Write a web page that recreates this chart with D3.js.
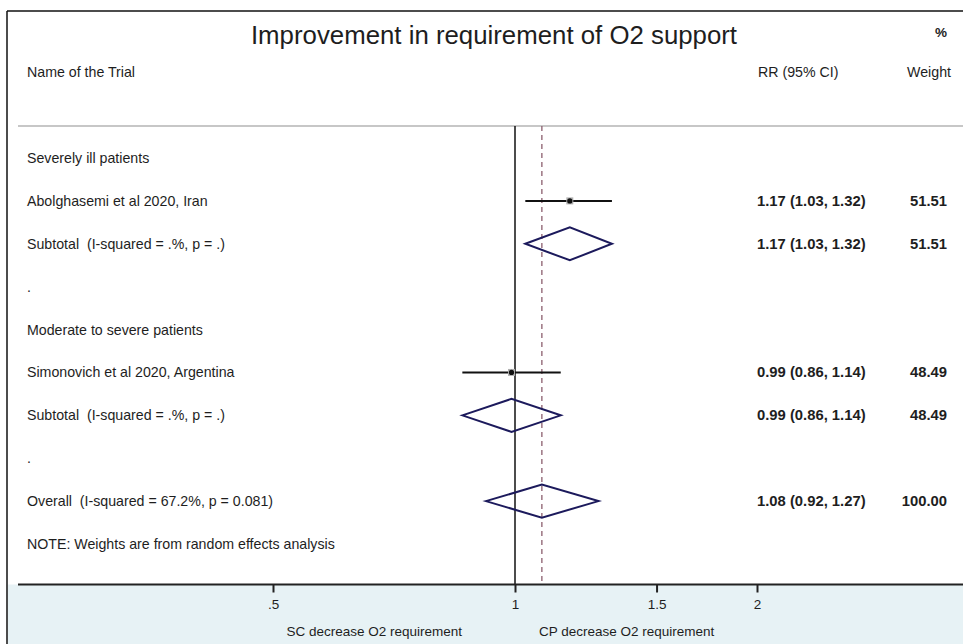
<!DOCTYPE html>
<html>
<head>
<meta charset="utf-8">
<script src="https://cdn.jsdelivr.net/npm/d3@7"></script>
<style>
  html, body { margin: 0; padding: 0; background: #fff; }
  svg text { font-family: "Liberation Sans", Arial, sans-serif; fill: #1e1e1e; white-space: pre; }
</style>
</head>
<body>
<svg id="chart" width="963" height="644"></svg>
<script>
// Forest plot rows (top to bottom)
const rowLabels = [
  "Severely ill patients",
  "Abolghasemi et al 2020, Iran",
  "Subtotal  (I-squared = .%, p = .)",
  ".",
  "Moderate to severe patients",
  "Simonovich et al 2020, Argentina",
  "Subtotal  (I-squared = .%, p = .)",
  ".",
  "Overall  (I-squared = 67.2%, p = 0.081)",
  "NOTE: Weights are from random effects analysis"
];
const rowTypes = ["group", "study", "pooled", "gap", "group", "study", "pooled", "gap", "pooled", "note"];
const rrValues = [null, 1.17, 1.17, null, null, 0.99, 0.99, null, 1.08, null];
const ciLower  = [null, 1.03, 1.03, null, null, 0.86, 0.86, null, 0.92, null];
const ciUpper  = [null, 1.32, 1.32, null, null, 1.14, 1.14, null, 1.27, null];
const weightPct = [null, "51.51", "51.51", null, null, "48.49", "48.49", null, "100.00", null];

const overallRR = 1.08;
const tickValues = [0.5, 1, 1.5, 2];
const tickLabels = [".5", "1", "1.5", "2"];

const svg = d3.select("#chart");
const W = 963, H = 644;

const x = d3.scaleLog().domain([0.5, 2]).range([273, 757]);
const y = d3.scaleLinear().domain([0, rowLabels.length - 1]).range([158, 544]);

const plotTop = 126, axisY = 584.5;
const labelSize = "14.2px", valueSize = "14.8px";

// bottom shaded band under the axis
svg.append("rect").attr("x", 8).attr("y", axisY).attr("width", W - 8).attr("height", H - axisY)
  .attr("fill", "#e7f2f5");

// outer frame (top and left edges)
svg.append("line").attr("x1", 7).attr("x2", W).attr("y1", 11).attr("y2", 11)
  .attr("stroke", "#111").attr("stroke-width", 1.5);
svg.append("line").attr("x1", 7).attr("x2", 7).attr("y1", 11).attr("y2", H)
  .attr("stroke", "#111").attr("stroke-width", 1.5);

// separator under column headers
svg.append("line").attr("x1", 18).attr("x2", W).attr("y1", plotTop).attr("y2", plotTop)
  .attr("stroke", "#b4b4b4").attr("stroke-width", 1.5);

// title & headers
svg.append("text").attr("x", 494).attr("y", 44).attr("text-anchor", "middle")
  .style("font-size", "25.8px").text("Improvement in requirement of O2 support");
svg.append("text").attr("x", 27).attr("y", 77).style("font-size", labelSize).text("Name of the Trial");
svg.append("text").attr("x", 758).attr("y", 77).style("font-size", labelSize).text("RR (95% CI)");
svg.append("text").attr("x", 935).attr("y", 37).style("font-size", "13.5px").style("font-weight", "bold").text("%");
svg.append("text").attr("x", 951).attr("y", 77).attr("text-anchor", "end").style("font-size", labelSize).text("Weight");

// null line and overall-effect line
svg.append("line").attr("x1", x(1)).attr("x2", x(1)).attr("y1", plotTop).attr("y2", axisY)
  .attr("stroke", "#111").attr("stroke-width", 1.5);
svg.append("line").attr("x1", x(overallRR)).attr("x2", x(overallRR)).attr("y1", plotTop).attr("y2", axisY)
  .attr("stroke", "#8c5f6e").attr("stroke-width", 1.3).attr("stroke-dasharray", "5,4");

// row labels
svg.selectAll("text.rowlab").data(rowLabels).join("text")
  .attr("class", "rowlab")
  .attr("x", 27).attr("y", (d, i) => y(i) + 5)
  .style("font-size", labelSize)
  .text(d => d);

const fmt = d3.format(".2f");
const idx = d3.range(rowLabels.length);

// study estimates: CI whisker, weight box, point
const studies = idx.filter(i => rowTypes[i] === "study");
svg.selectAll("line.ci").data(studies).join("line")
  .attr("class", "ci")
  .attr("x1", i => x(ciLower[i])).attr("x2", i => x(ciUpper[i]))
  .attr("y1", i => y(i)).attr("y2", i => y(i))
  .attr("stroke", "#111").attr("stroke-width", 2);
svg.selectAll("rect.wbox").data(studies).join("rect")
  .attr("class", "wbox")
  .attr("x", i => x(rrValues[i]) - 3.5).attr("y", i => y(i) - 3.5)
  .attr("width", 7).attr("height", 7).attr("fill", "#b0b0b0");
svg.selectAll("circle.pt").data(studies).join("circle")
  .attr("class", "pt")
  .attr("cx", i => x(rrValues[i])).attr("cy", i => y(i)).attr("r", 2.6)
  .attr("fill", "#111");

// pooled diamonds
const pooled = idx.filter(i => rowTypes[i] === "pooled");
const dh = 16.5;
svg.selectAll("path.dia").data(pooled).join("path")
  .attr("class", "dia")
  .attr("d", i => {
    const cy = y(i);
    return `M${x(ciLower[i])},${cy} L${x(rrValues[i])},${cy - dh} L${x(ciUpper[i])},${cy} L${x(rrValues[i])},${cy + dh} Z`;
  })
  .attr("fill", "none").attr("stroke", "#1c1a5c").attr("stroke-width", 2).attr("stroke-linejoin", "miter");

// estimate and weight columns
const withEst = idx.filter(i => rrValues[i] !== null);
svg.selectAll("text.est").data(withEst).join("text")
  .attr("class", "est")
  .attr("x", 757).attr("y", i => y(i) + 5)
  .style("font-size", valueSize).style("font-weight", "bold")
  .text(i => `${fmt(rrValues[i])} (${fmt(ciLower[i])}, ${fmt(ciUpper[i])})`);
svg.selectAll("text.wt").data(withEst).join("text")
  .attr("class", "wt")
  .attr("x", 947).attr("y", i => y(i) + 5).attr("text-anchor", "end")
  .style("font-size", valueSize).style("font-weight", "bold")
  .text(i => weightPct[i]);

// x axis
svg.append("line").attr("x1", 18).attr("x2", W).attr("y1", axisY).attr("y2", axisY)
  .attr("stroke", "#222").attr("stroke-width", 2);
const axis = d3.axisBottom(x).tickValues(tickValues)
  .tickFormat((d, i) => tickLabels[i]).tickSize(8).tickPadding(7);
const gAxis = svg.append("g").attr("transform", `translate(0,${axisY})`).call(axis);
gAxis.select(".domain").remove();
gAxis.selectAll(".tick line").attr("stroke", "#222").attr("stroke-width", 2);
gAxis.selectAll(".tick text").style("font-size", "13.5px")
  .style("font-family", "'Liberation Sans', Arial, sans-serif").attr("fill", "#1e1e1e");

svg.append("text").attr("x", 462).attr("y", 636).attr("text-anchor", "end")
  .style("font-size", "13.5px").text("SC decrease O2 requirement");
svg.append("text").attr("x", 539).attr("y", 636)
  .style("font-size", "13.5px").text("CP decrease O2 requirement");
</script>
</body>
</html>
